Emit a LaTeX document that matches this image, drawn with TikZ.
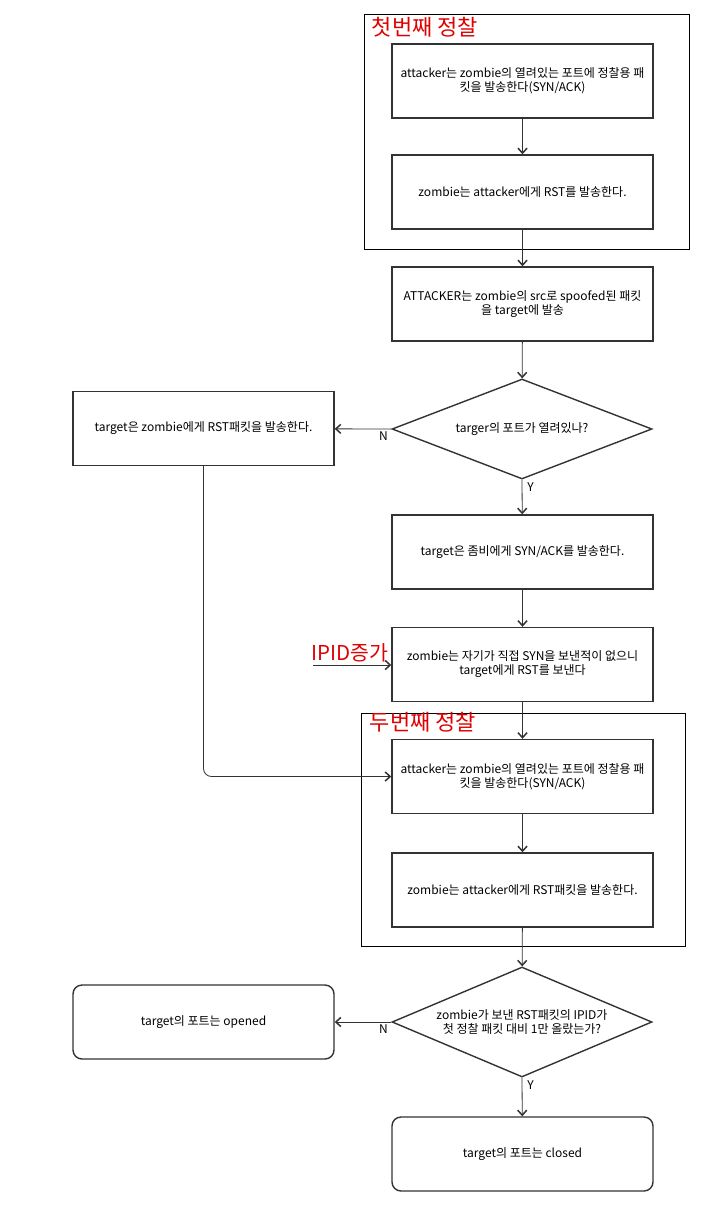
\documentclass[tikz,border=0pt]{standalone}
\usepackage{fontspec}
\newfontfamily\krfont{Noto Sans CJK KR}
\usepackage{tikz}
\usetikzlibrary{arrows.meta,shapes.geometric,positioning}
\definecolor{boxline}{HTML}{333333}
\definecolor{titlered}{HTML}{E00000}

\begin{document}
\begin{tikzpicture}[x=1pt, y=-1pt,
  box/.style={draw=boxline, line width=1.4pt, minimum width=261pt, minimum height=74pt,
              align=center, inner sep=2pt, font=\krfont\fontsize{12}{14}\selectfont},
  endbox/.style={box, rounded corners=9pt},
  decision/.style={diamond, draw=boxline, line width=1.4pt, minimum width=260pt,
              minimum height=100pt, shape aspect=2.6, inner sep=0pt, align=center,
              font=\krfont\fontsize{12}{14}\selectfont},
  group/.style={draw=black, line width=0.8pt, inner sep=0pt},
  grouptitle/.style={text=titlered, font=\krfont\fontsize{22}{24}\selectfont, inner sep=0pt},
  arr/.style={-{Straight Barb[length=5pt,width=9pt,line width=1.5pt]}, draw=boxline, line width=0.8pt},
  yn/.style={font=\krfont\fontsize{12}{12}\selectfont, inner sep=1pt}
]
  \useasboundingbox (0,0) rectangle (708,1212);

  % Scouting groups
  \node[group, minimum width=325pt, minimum height=235pt] (scout1) at (526.5,131.5) {};
  \node[group, minimum width=324pt, minimum height=233pt] (scout2) at (523,829.5) {};
  \node[grouptitle, anchor=west] (title1) at ([shift={(8,14)}]scout1.north west) {첫번째 정찰};
  \node[grouptitle, anchor=west] (title2) at ([shift={(9,10)}]scout2.north west) {두번째 정찰};

  % Nodes
  \node[box] (probe1) at (522.5,81)  {attacker는 zombie의 열려있는 포트에 정찰용 패\\킷을 발송한다(SYN/ACK)};
  \node[box] (reply1) at (522.5,192) {zombie는 attacker에게 RST를 발송한다.};
  \node[box] (spoof)  at (522.5,304) {ATTACKER는 zombie의 src로 spoofed된 패킷\\을 target에 발송};
  \node[decision] (isopen) at (522,429) {targer의 포트가 열려있나?};
  \node[box] (closedrst) at (203.5,428.5) {target은 zombie에게 RST패킷을 발송한다.};
  \node[box] (synack) at (522.5,552) {target은 좀비에게 SYN/ACK를 발송한다.};
  \node[box] (zombierst) at (522.5,664.5) {zombie는 자기가 직접 SYN을 보낸적이 없으니\\target에게 RST를 보낸다};
  \node[box] (probe2) at (522.5,776.5) {attacker는 zombie의 열려있는 포트에 정찰용 패\\킷을 발송한다(SYN/ACK)};
  \node[box] (reply2) at (522.5,890) {zombie는 attacker에게 RST패킷을 발송한다.};
  \node[decision, minimum height=110pt] (ipidcheck) at (522,1022) {zombie가 보낸 RST패킷의 IPID가\\첫 정찰 패킷 대비 1만 올랐는가?};
  \node[endbox] (opened) at (203.5,1022) {target의 포트는 opened};
  \node[endbox] (closed) at (522.5,1154) {target의 포트는 closed};

  % IPID note
  \coordinate (ipidin) at (313,665);
  \node[grouptitle, font=\krfont\fontsize{20.5}{22}\selectfont, anchor=south west] (ipidnote) at ([shift={(-2,-3)}]ipidin) {IPID증가};

  % Connectors
  \draw[arr] (probe1) -- (reply1);
  \draw[arr] (reply1) -- (spoof);
  \draw[arr] (spoof) -- (isopen);
  \draw[arr] (isopen.west) -- node[yn, pos=0, below left=1pt and 2pt] {N} (closedrst);
  \draw[arr] (isopen.south) -- node[yn, pos=0, below right=2pt and 4pt] {Y} (synack);
  \draw[arr] (synack) -- (zombierst);
  \draw[arr] (ipidin) -- (zombierst.west |- ipidin);
  \draw[arr] (zombierst) -- (probe2);
  \draw[arr, rounded corners=8pt] (closedrst.south) |- (probe2.west);
  \draw[arr] (probe2) -- (reply2);
  \draw[arr] (reply2) -- (ipidcheck);
  \draw[arr] (ipidcheck.west) -- node[yn, pos=0, below left=1pt and 2pt] {N} (opened);
  \draw[arr] (ipidcheck.south) -- node[yn, pos=0, below right=2pt and 4pt] {Y} (closed);
\end{tikzpicture}
\end{document}
